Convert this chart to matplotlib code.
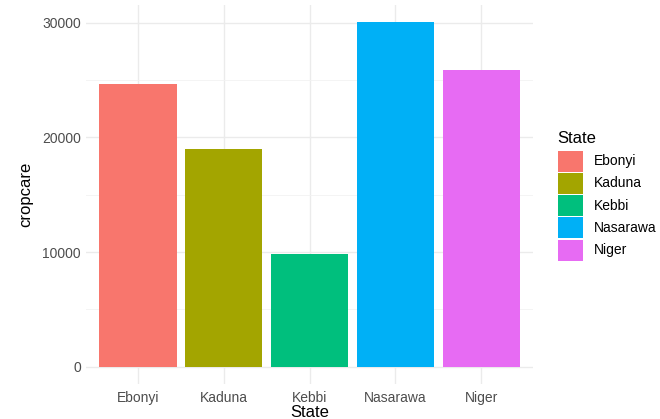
import matplotlib
matplotlib.use("Agg")
import matplotlib.pyplot as plt
from matplotlib.patches import Rectangle

states = ["Ebonyi", "Kaduna", "Kebbi", "Nasarawa", "Niger"]
cropcare = [24700, 19000, 9800, 30080, 25900]
colors = ["#F8766D", "#A3A500", "#00BF7D", "#00B0F6", "#E76BF3"]
yticks = [0, 10000, 20000, 30000]
minor_yticks = [5000, 15000, 25000]

plt.rcParams['font.family'] = ['Liberation Sans', 'DejaVu Sans']

W, H = 660, 419
fig = plt.figure(figsize=(W / 100, H / 100), dpi=100)
ax = fig.add_axes([0.131, 0.0835, 0.676, 0.9055])

x = list(range(1, len(states) + 1))
ax.bar(x, cropcare, width=0.9, color=colors, zorder=3)

ymax = max(cropcare)
ax.set_ylim(-0.05 * ymax, 1.05 * ymax)
ax.set_xlim(0.4, len(states) + 0.6)

ax.set_xticks(x)
ax.set_xticklabels(states)
ax.set_yticks(yticks)
ax.set_yticks(minor_yticks, minor=True)
ax.grid(which='major', color='#EBEBEB', linewidth=1.0, zorder=0)
ax.grid(which='minor', axis='y', color='#F2F2F2', linewidth=0.6, zorder=0)
ax.tick_params(which='both', length=0, labelsize=10, labelcolor='#4D4D4D')
ax.tick_params(axis='x', pad=5)
ax.tick_params(axis='y', pad=4)
for s in ax.spines.values():
    s.set_visible(False)

ax.set_xlabel("State", fontsize=12, color='black', labelpad=0)
ax.set_ylabel("cropcare", fontsize=12, color='black', labelpad=6)

# Legend (ggplot-style), laid out in figure pixel units
key_x, key_w, key_h, pitch, top = 557.7, 25.6, 21.0, 22.2, 150.7
fig.text(557 / W, 1 - 142.7 / H, "State", fontsize=12, color='black',
         ha='left', va='baseline')
for i, (s, c) in enumerate(zip(states, colors)):
    y0 = top + i * pitch
    fig.patches.append(Rectangle((key_x / W, 1 - (y0 + key_h) / H), key_w / W, key_h / H,
                                 transform=fig.transFigure, facecolor=c,
                                 edgecolor='none', figure=fig))
    fig.text(594 / W, 1 - (y0 + key_h / 2) / H, s, fontsize=10, color='black',
             ha='left', va='center')

fig.savefig("out.png", dpi=100)
